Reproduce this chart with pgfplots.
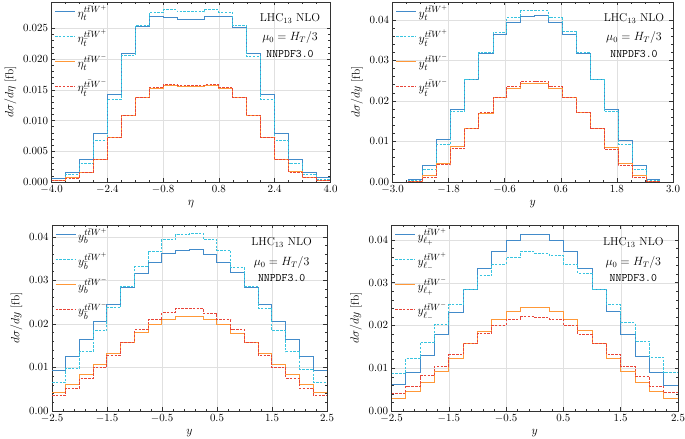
\documentclass[border=0pt]{standalone}
\usepackage{pgfplots}
\usepackage{pgfplotstable}
\pgfplotsset{compat=1.18}
\definecolor{cblue}{RGB}{66,139,202}
\definecolor{ccyan}{RGB}{56,196,224}
\definecolor{corange}{RGB}{255,152,56}
\definecolor{cred}{RGB}{232,68,56}

\pgfplotstableread{
x b c o r
-4.0 0.0006 0.0003 0.0003 0.0003
-3.6 0.0016 0.0013 0.0007 0.0006
-3.2 0.0037 0.0030 0.0016 0.0016
-2.8 0.0079 0.0068 0.0037 0.0036
-2.4 0.0143 0.0134 0.0073 0.0072
-2.0 0.0209 0.0206 0.0109 0.0109
-1.6 0.0253 0.0255 0.0137 0.0137
-1.2 0.0270 0.0276 0.0152 0.0154
-0.8 0.0268 0.0280 0.0157 0.0158
-0.4 0.0265 0.0277 0.0156 0.0157
0.0 0.0265 0.0277 0.0156 0.0157
0.4 0.0269 0.0280 0.0157 0.0158
0.8 0.0270 0.0276 0.0152 0.0154
1.2 0.0251 0.0255 0.0137 0.0137
1.6 0.0209 0.0204 0.0109 0.0109
2.0 0.0143 0.0134 0.0073 0.0072
2.4 0.0079 0.0068 0.0037 0.0036
2.8 0.0036 0.0030 0.0017 0.0016
3.2 0.0015 0.0012 0.0007 0.0007
3.6 0.0007 0.0004 0.0003 0.0003
4.0 0.0007 0.0004 0.0003 0.0003
}\tabA

\pgfplotstableread{
x b c o r
-2.65 0 0 0 0
-2.65 0.0007 0.0004 0.0002 0.0002
-2.35 0.0041 0.0030 0.0015 0.0012
-2.05 0.0104 0.0093 0.0045 0.0042
-1.75 0.0178 0.0173 0.0088 0.0082
-1.45 0.0254 0.0252 0.0131 0.0131
-1.15 0.0318 0.0320 0.0170 0.0172
-0.85 0.0363 0.0369 0.0208 0.0209
-0.56 0.0394 0.0405 0.0230 0.0235
-0.26 0.0409 0.0422 0.0243 0.0248
0.04 0.0411 0.0422 0.0243 0.0248
0.34 0.0393 0.0405 0.0230 0.0235
0.63 0.0363 0.0370 0.0208 0.0209
0.93 0.0318 0.0319 0.0172 0.0172
1.23 0.0254 0.0252 0.0131 0.0131
1.53 0.0180 0.0174 0.0086 0.0081
1.83 0.0103 0.0092 0.0045 0.0041
2.13 0.0040 0.0030 0.0016 0.0012
2.43 0.0007 0.0004 0.0002 0.0002
2.71 0.0007 0.0004 0.0002 0.0002
2.71 0 0 0 0
}\tabB

\pgfplotstableread{
x b c o r
-2.50 0.0093 0.0065 0.0042 0.0036
-2.25 0.0126 0.0098 0.0060 0.0052
-2.00 0.0164 0.0136 0.0083 0.0075
-1.75 0.0205 0.0184 0.0107 0.0101
-1.50 0.0245 0.0237 0.0132 0.0128
-1.25 0.0284 0.0285 0.0158 0.0158
-1.00 0.0316 0.0331 0.0180 0.0186
-0.75 0.0341 0.0367 0.0198 0.0209
-0.50 0.0361 0.0394 0.0211 0.0226
-0.25 0.0368 0.0406 0.0216 0.0236
0.00 0.0370 0.0408 0.0216 0.0236
0.25 0.0359 0.0394 0.0211 0.0224
0.50 0.0340 0.0369 0.0198 0.0209
0.75 0.0317 0.0329 0.0178 0.0187
1.00 0.0283 0.0285 0.0158 0.0158
1.25 0.0245 0.0236 0.0132 0.0128
1.50 0.0205 0.0184 0.0107 0.0100
1.75 0.0164 0.0136 0.0083 0.0075
2.00 0.0125 0.0096 0.0060 0.0052
2.25 0.0093 0.0066 0.0042 0.0036
2.50 0.0093 0.0066 0.0042 0.0036
}\tabC

\pgfplotstableread{
x b c o r
-2.50 0.0061 0.0087 0.0029 0.0042
-2.25 0.0091 0.0123 0.0046 0.0058
-2.00 0.0130 0.0161 0.0066 0.0082
-1.75 0.0180 0.0203 0.0093 0.0105
-1.50 0.0231 0.0248 0.0123 0.0131
-1.25 0.0285 0.0285 0.0157 0.0157
-1.00 0.0333 0.0316 0.0186 0.0182
-0.75 0.0374 0.0343 0.0213 0.0200
-0.50 0.0398 0.0360 0.0233 0.0213
-0.25 0.0413 0.0372 0.0242 0.0221
0.00 0.0413 0.0369 0.0243 0.0219
0.25 0.0399 0.0363 0.0233 0.0215
0.50 0.0372 0.0343 0.0213 0.0200
0.75 0.0333 0.0322 0.0188 0.0180
1.00 0.0285 0.0285 0.0157 0.0157
1.25 0.0232 0.0248 0.0123 0.0132
1.50 0.0180 0.0206 0.0093 0.0105
1.75 0.0128 0.0163 0.0066 0.0081
2.00 0.0091 0.0126 0.0046 0.0058
2.25 0.0060 0.0089 0.0029 0.0043
2.50 0.0060 0.0089 0.0029 0.0043
}\tabD

\tikzset{
 sb/.style={cblue, solid},
 sc/.style={ccyan, dash pattern=on 2.5bp off 1.3bp},
 so/.style={corange, solid},
 sr/.style={cred, dash pattern=on 2.5bp off 1.3bp},
 txt/.style={font=\fontsize{11.5}{13}\selectfont},
}

\pgfplotsset{
 panel/.style={
  scale only axis,
  axis line style={line width=0.7bp, black!80},
  every tick/.style={line width=0.5bp, black!80},
  major tick length=3.5bp, minor tick length=2bp,
  xtick pos=both, ytick pos=both, tick align=inside,
  grid=major, major grid style={line width=0.4bp, black!12},
  tick label style={font=\fontsize{11}{12}\selectfont},
  label style={font=\fontsize{11.5}{13}\selectfont},
  scaled y ticks=false, scaled x ticks=false,
  x tick label style={/pgf/number format/.cd, fixed, fixed zerofill, precision=1, /tikz/.cd},
  legend style={at={(0,1)}, anchor=north west, draw=none, fill=none,
    font=\fontsize{13}{15}\selectfont, row sep=7.5bp, inner xsep=3bp, inner ysep=1bp,
    cells={anchor=west}},
  legend image code/.code={\draw[##1] (0bp,0bp) -- (20bp,0bp);},
  every axis plot/.append style={line width=1bp, const plot mark left},
 },
}

\begin{document}
\begin{tikzpicture}
\useasboundingbox (0,0) rectangle (685bp,439bp);

% Panel 1
\begin{axis}[panel, at={(51.5bp,257bp)}, anchor=south west,
  width=279bp, height=180bp,
  xmin=-4, xmax=4, ymin=0, ymax=0.0293,
  xtick={-4.0,-2.4,-0.8,0.8,2.4,4.0}, minor x tick num=3,
  ytick={0,0.005,0.010,0.015,0.020,0.025}, minor y tick num=4,
  y tick label style={/pgf/number format/.cd, fixed, fixed zerofill, precision=3, /tikz/.cd},
  xlabel={$\eta$}, ylabel={$d\sigma/d\eta$ [fb]}]
\addplot[sb] table[x=x,y=b]{\tabA};
\addlegendentry{$\eta_t^{t\bar tW^+}$}
\addplot[sc] table[x=x,y=c]{\tabA};
\addlegendentry{$\eta_{\bar t}^{t\bar tW^+}$}
\addplot[so] table[x=x,y=o]{\tabA};
\addlegendentry{$\eta_t^{t\bar tW^-}$}
\addplot[sr] table[x=x,y=r]{\tabA};
\addlegendentry{$\eta_{\bar t}^{t\bar tW^-}$}
\node[txt] at (rel axis cs:0.855,0.909) {LHC$_{13}$ NLO};
\node[txt] at (rel axis cs:0.855,0.804) {$\mu_0 = H_T/3$};
\node[txt] at (rel axis cs:0.855,0.711) {\texttt{NNPDF3.0}};
\end{axis}

% Panel 2
\begin{axis}[panel, at={(392.5bp,257bp)}, anchor=south west,
  width=280.5bp, height=180bp,
  xmin=-3, xmax=3, ymin=0, ymax=0.0444,
  xtick={-3.0,-1.8,-0.6,0.6,1.8,3.0}, minor x tick num=3,
  ytick={0,0.01,0.02,0.03,0.04}, minor y tick num=4,
  y tick label style={/pgf/number format/.cd, fixed, fixed zerofill, precision=2, /tikz/.cd},
  xlabel={$y$}, ylabel={$d\sigma/dy$ [fb]}]
\addplot[sb] table[x=x,y=b]{\tabB};
\addlegendentry{$y_t^{t\bar tW^+}$}
\addplot[sc] table[x=x,y=c]{\tabB};
\addlegendentry{$y_{\bar t}^{t\bar tW^+}$}
\addplot[so] table[x=x,y=o]{\tabB};
\addlegendentry{$y_t^{t\bar tW^-}$}
\addplot[sr] table[x=x,y=r]{\tabB};
\addlegendentry{$y_{\bar t}^{t\bar tW^-}$}
\node[txt] at (rel axis cs:0.861,0.909) {LHC$_{13}$ NLO};
\node[txt] at (rel axis cs:0.861,0.804) {$\mu_0 = H_T/3$};
\node[txt] at (rel axis cs:0.861,0.711) {\texttt{NNPDF3.0}};
\end{axis}

% Panel 3
\begin{axis}[panel, at={(52bp,28bp)}, anchor=south west,
  width=275bp, height=186bp,
  xmin=-2.5, xmax=2.5, ymin=0, ymax=0.0427,
  xtick={-2.5,-1.5,-0.5,0.5,1.5,2.5}, minor x tick num=4,
  ytick={0,0.01,0.02,0.03,0.04}, minor y tick num=4,
  y tick label style={/pgf/number format/.cd, fixed, fixed zerofill, precision=2, /tikz/.cd},
  xlabel={$y$}, ylabel={$d\sigma/dy$ [fb]}]
\addplot[sb] table[x=x,y=b]{\tabC};
\addlegendentry{$y_b^{t\bar tW^+}$}
\addplot[sc] table[x=x,y=c]{\tabC};
\addlegendentry{$y_{\bar b}^{t\bar tW^+}$}
\addplot[so] table[x=x,y=o]{\tabC};
\addlegendentry{$y_b^{t\bar tW^-}$}
\addplot[sr] table[x=x,y=r]{\tabC};
\addlegendentry{$y_{\bar b}^{t\bar tW^-}$}
\node[txt] at (rel axis cs:0.835,0.905) {LHC$_{13}$ NLO};
\node[txt] at (rel axis cs:0.835,0.797) {$\mu_0 = H_T/3$};
\node[txt] at (rel axis cs:0.835,0.713) {\texttt{NNPDF3.0}};
\end{axis}

% Panel 4
\begin{axis}[panel, at={(391.5bp,28bp)}, anchor=south west,
  width=286.5bp, height=186bp,
  xmin=-2.5, xmax=2.5, ymin=0, ymax=0.0435,
  xtick={-2.5,-1.5,-0.5,0.5,1.5,2.5}, minor x tick num=4,
  ytick={0,0.01,0.02,0.03,0.04}, minor y tick num=4,
  y tick label style={/pgf/number format/.cd, fixed, fixed zerofill, precision=2, /tikz/.cd},
  xlabel={$y$}, ylabel={$d\sigma/dy$ [fb]}]
\addplot[sb] table[x=x,y=b]{\tabD};
\addlegendentry{$y_{\ell_+}^{t\bar tW^+}$}
\addplot[sc] table[x=x,y=c]{\tabD};
\addlegendentry{$y_{\ell_-}^{t\bar tW^+}$}
\addplot[so] table[x=x,y=o]{\tabD};
\addlegendentry{$y_{\ell_+}^{t\bar tW^-}$}
\addplot[sr] table[x=x,y=r]{\tabD};
\addlegendentry{$y_{\ell_-}^{t\bar tW^-}$}
\node[txt] at (rel axis cs:0.844,0.905) {LHC$_{13}$ NLO};
\node[txt] at (rel axis cs:0.844,0.797) {$\mu_0 = H_T/3$};
\node[txt] at (rel axis cs:0.844,0.713) {\texttt{NNPDF3.0}};
\end{axis}
\end{tikzpicture}
\end{document}
